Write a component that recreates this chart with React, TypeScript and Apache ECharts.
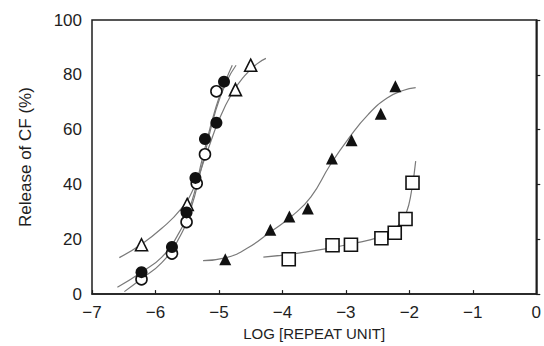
import React, { useEffect, useRef } from "react";
import * as echarts from "echarts";

// Measured points (log concentration, % release)
const openTriangles = [[-6.22, 18.0], [-5.5, 32.7], [-4.74, 74.6], [-4.5, 83.5]];
const openCircles = [[-6.22, 5.4], [-5.74, 14.8], [-5.51, 26.3], [-5.35, 40.4], [-5.22, 51.0], [-5.04, 74.0]];
const filledCircles = [[-6.22, 8.0], [-5.74, 17.2], [-5.51, 29.8], [-5.37, 42.4], [-5.22, 56.6], [-5.04, 62.5], [-4.92, 77.5]];
const filledTriangles = [[-4.9, 12.7], [-4.19, 23.5], [-3.89, 28.3], [-3.6, 31.2], [-3.22, 49.5], [-2.91, 56.1], [-2.45, 65.8], [-2.22, 75.8]];
const openSquares = [[-3.9, 12.7], [-3.21, 17.8], [-2.92, 18.0], [-2.44, 20.4], [-2.23, 22.4], [-2.06, 27.4], [-1.95, 40.6]];

// Fitted curves
const fitOpenTriangles = [[-6.57, 13.3], [-6.22, 18.2], [-5.9, 24], [-5.6, 31], [-5.4, 38.5], [-5.2, 51], [-5.0, 63.5], [-4.8, 73], [-4.6, 79.5], [-4.4, 84], [-4.26, 86]];
const fitFilledCircles = [[-6.6, 2.5], [-6.22, 8], [-5.9, 13.5], [-5.65, 21.5], [-5.45, 32], [-5.25, 50.5], [-5.05, 68], [-4.9, 77.5], [-4.79, 83.5]];
const fitOpenCircles = [[-6.49, 0.9], [-6.22, 5.6], [-5.9, 11.5], [-5.65, 19.5], [-5.45, 30.5], [-5.25, 48.5], [-5.05, 67], [-4.88, 77.5], [-4.73, 83.5]];
const fitFilledTriangles = [[-5.25, 12.2], [-4.9, 13.2], [-4.55, 16.8], [-4.2, 22.5], [-3.85, 28.5], [-3.55, 35.5], [-3.25, 47], [-2.95, 57], [-2.65, 65.5], [-2.35, 71.5], [-2.1, 74.3], [-1.9, 75.3]];
const fitOpenSquares = [[-4.3, 13.5], [-3.8, 14.8], [-3.3, 16.6], [-2.8, 18.9], [-2.5, 20.6], [-2.3, 22.6], [-2.15, 25.6], [-2.05, 29.5], [-1.97, 37], [-1.9, 48.5]];

const xTicks = { min: -7, max: 0, interval: 1 };
const yTicks = { min: 0, max: 100, interval: 20 };

const FONT = "'Liberation Sans', Arial, sans-serif";
const INK = "#1e1e1e";
const CURVE = "#7a7a7a";

export default function App() {
  const ref = useRef<HTMLDivElement>(null);
  useEffect(() => {
    const chart = echarts.init(ref.current!, null, { renderer: "svg" });
    const curve = (data: number[][]) => ({
      type: "line",
      data,
      smooth: 0.5,
      showSymbol: false,
      silent: true,
      lineStyle: { color: CURVE, width: 1.2 },
      z: 2,
    });
    const marks = (data: number[][], symbol: string, filled: boolean, size: number) => ({
      type: "scatter",
      data,
      symbol,
      symbolSize: size,
      itemStyle: {
        color: filled ? "#111" : "#fff",
        borderColor: "#111",
        borderWidth: filled ? 0 : 1.6,
        opacity: 1,
      },
      z: 3,
    });
    chart.setOption({
      animation: false,
      textStyle: { fontFamily: FONT },
      grid: {
        left: 92,
        right: 2,
        top: 20,
        bottom: 43.5,
        show: true,
        borderColor: INK,
        borderWidth: 1.5,
      },
      xAxis: {
        type: "value",
        ...xTicks,
        name: "LOG [REPEAT UNIT]",
        nameLocation: "middle",
        nameGap: 29,
        nameTextStyle: { color: INK, fontSize: 15, fontFamily: FONT },
        axisLine: { lineStyle: { color: INK, width: 1.5 } },
        axisTick: { inside: true, length: 4, lineStyle: { color: INK, width: 1.2 } },
        axisLabel: {
          color: INK,
          fontSize: 17,
          margin: 10,
          fontFamily: FONT,
          formatter: (v: number) => String(v).replace("-", "\u2212"),
        },
        splitLine: { show: false },
      },
      yAxis: {
        type: "value",
        ...yTicks,
        name: "Release of CF (%)",
        nameLocation: "middle",
        nameGap: 58,
        nameTextStyle: { color: INK, fontSize: 17, fontFamily: FONT },
        axisLine: { show: true, lineStyle: { color: INK, width: 1.5 } },
        axisTick: { show: true, inside: true, length: 4, lineStyle: { color: INK, width: 1.2 } },
        axisLabel: { color: INK, fontSize: 17, margin: 10, fontFamily: FONT },
        splitLine: { show: false },
      },
      series: [
        curve(fitOpenTriangles),
        curve(fitFilledCircles),
        curve(fitOpenCircles),
        curve(fitFilledTriangles),
        curve(fitOpenSquares),
        marks(openTriangles, "triangle", false, 12),
        marks(openCircles, "circle", false, 11),
        marks(filledCircles, "circle", true, 12),
        marks(filledTriangles, "triangle", true, 12),
        marks(openSquares, "rect", false, 13),
      ],
    });
    return () => chart.dispose();
  }, []);
  return (
    <div
      ref={ref}
      style={{ position: "fixed", left: 0, top: 0, width: 544, height: 346, background: "#fff" }}
    />
  );
}
